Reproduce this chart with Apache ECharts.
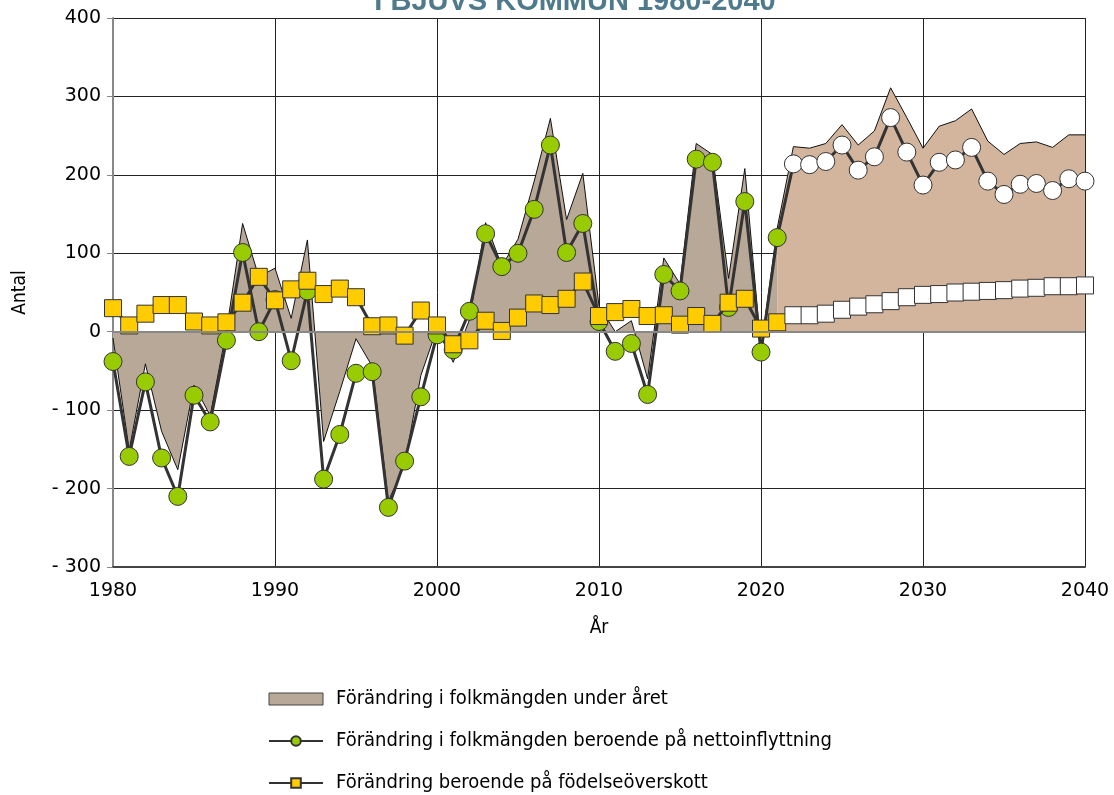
<!DOCTYPE html>
<html>
<head>
<meta charset="utf-8">
<script src="https://cdn.jsdelivr.net/npm/echarts@6/dist/echarts.min.js"></script>
<style>
  html, body { margin: 0; padding: 0; background: #fff; }
  #container { width: 1114px; height: 795px; }
</style>
</head>
<body>
<div id="container"></div>
<script>
// data
var startYear = 1980;
var lastHistYear = 2021;
// förändring under året (historik 1980-2021)
var totalHist = [-8, -151, -41, -127, -176, -68, -107, 1, 138, 70,
    81, 17, 117, -140, -76, -9, -44, -216, -170, -56,
    4, -39, 15, 139, 84, 118, 192, 272, 143, 202,
    33, 0, 14, -60, 94, 61, 240, 226, 68, 208,
    -22, 132];
// förändring under året (prognos 2021-2040)
var totalProg = [132, 236, 234, 240, 264, 238, 256, 311, 273, 234,
    262, 269, 284, 243, 226, 240, 242, 235, 251, 251];
// nettoinflyttning 1980-2040
var netValues = [-38, -159, -64, -161, -210, -81, -115, -11, 101, 0,
    41, -37, 52, -188, -131, -53, -51, -224, -165, -83,
    -4, -23, 26, 125, 83, 100, 156, 238, 101, 138,
    13, -25, -15, -80, 73, 52, 220, 216, 31, 166,
    -26, 120,
    214, 213, 217, 238, 206, 223, 273, 229, 187, 216,
    219, 235, 192, 175, 188, 189, 180, 195, 192];
// födelseöverskott 1980-2040
var birthValues = [30, 8, 23, 34, 34, 13, 8, 12, 37, 70,
    40, 54, 65, 48, 55, 44, 7, 8, -5, 27,
    8, -16, -11, 14, 1, 18, 36, 34, 42, 64,
    20, 25, 29, 20, 21, 9, 20, 10, 37, 42,
    4, 12,
    21, 21, 23, 28, 32, 35, 39, 44, 47, 48,
    50, 51, 52, 53, 55, 56, 58, 58, 59];
var yTicks = [-300, -200, -100, 0, 100, 200, 300, 400];

var nameTotal = 'Förändring i folkmängden under året';
var nameNet = 'Förändring i folkmängden beroende på nettoinflyttning';
var nameBirth = 'Förändring beroende på födelseöverskott';

var histColor = '#B8A898';
var progColor = '#D3B59D';
var lineColor = '#333333';
var narrowFont = "'Liberation Sans Narrow', 'DejaVu Sans Condensed', 'Liberation Sans', sans-serif";

function pairs(arr, firstYear) {
    var out = [];
    for (var i = 0; i < arr.length; i++) out.push([firstYear + i, arr[i]]);
    return out;
}
// historiska punkter i färg, prognos vit
function points(arr) {
    var out = [];
    for (var i = 0; i < arr.length; i++) {
        var y = startYear + i;
        var d = { value: [y, arr[i]] };
        if (y > lastHistYear) d.itemStyle = { color: '#ffffff' };
        out.push(d);
    }
    return out;
}

var dom = document.getElementById('container');
var myChart = echarts.init(dom, null, { renderer: 'canvas' });
var option = {
    backgroundColor: '#ffffff',
    animation: false,
    title: {
        text: 'I BJUVS KOMMUN 1980-2040',
        left: 570,
        textAlign: 'center',
        top: -18,
        textStyle: { color: '#4E7A8B', fontSize: 29, fontWeight: 'bold', fontFamily: 'Liberation Sans' }
    },
    grid: { left: 113, right: 29, top: 18, bottom: 228, outerBoundsMode: 'none' },
    legend: {
        orient: 'vertical',
        left: 268,
        top: 689,
        height: 140,
        padding: 0,
        itemWidth: 54,
        itemHeight: 12,
        itemGap: 22,
        textStyle: { fontFamily: narrowFont, fontSize: 20, color: '#000', padding: [0, 0, 0, 8] },
        data: [
            { name: nameTotal, icon: 'rect', itemStyle: { color: histColor, borderColor: '#444', borderWidth: 1 } },
            { name: nameNet },
            { name: nameBirth }
        ]
    },
    xAxis: {
        type: 'value',
        min: 1980,
        max: 2040,
        interval: 10,
        name: 'År',
        nameLocation: 'middle',
        nameGap: 52,
        nameTextStyle: { fontFamily: narrowFont, fontSize: 19, color: '#000' },
        axisLine: { onZero: false, lineStyle: { color: '#444', width: 2 } },
        axisTick: { show: false },
        axisLabel: {
            margin: 15, fontFamily: 'DejaVu Sans', fontSize: 19, color: '#000',
            formatter: function (v) { return String(v); }
        },
        splitLine: { show: true, lineStyle: { color: '#222', width: 1 } }
    },
    yAxis: {
        type: 'value',
        min: yTicks[0],
        max: yTicks[yTicks.length - 1],
        interval: 100,
        name: 'Antal',
        nameLocation: 'middle',
        nameGap: 83,
        nameRotate: 90,
        nameTextStyle: { fontFamily: narrowFont, fontSize: 19, color: '#000' },
        axisLine: { show: true, lineStyle: { color: '#888', width: 2 } },
        axisTick: { show: true, length: 6, lineStyle: { color: '#888' } },
        axisLabel: {
            margin: 12,
            fontFamily: 'DejaVu Sans',
            fontSize: 19,
            color: '#000',
            formatter: function (v) { return v < 0 ? '- ' + Math.abs(v) : String(v); }
        },
        splitLine: { show: true, lineStyle: { color: '#222', width: 1 } }
    },
    series: [
        {
            name: nameTotal,
            type: 'line',
            data: pairs(totalHist, startYear),
            symbol: 'none',
            lineStyle: { color: '#111', width: 1 },
            itemStyle: { color: histColor },
            areaStyle: { color: histColor, opacity: 1 },
            z: 1,
            markLine: {
                silent: true,
                symbol: 'none',
                label: { show: false },
                lineStyle: { color: '#888', width: 2, type: 'solid' },
                data: [{ yAxis: 0 }]
            }
        },
        {
            name: 'prognos',
            type: 'line',
            data: pairs(totalProg, lastHistYear),
            symbol: 'none',
            lineStyle: { color: '#111', width: 1 },
            itemStyle: { color: progColor },
            areaStyle: { color: progColor, opacity: 1 },
            z: 1
        },
        {
            name: nameNet,
            type: 'line',
            data: points(netValues),
            symbol: 'circle',
            symbolSize: 18,
            lineStyle: { color: lineColor, width: 3 },
            itemStyle: { color: '#99CC00', borderColor: '#333', borderWidth: 1 },
            z: 3
        },
        {
            name: nameBirth,
            type: 'line',
            data: points(birthValues),
            symbol: 'rect',
            symbolSize: 17,
            lineStyle: { color: lineColor, width: 3 },
            itemStyle: { color: '#FFCC00', borderColor: '#333', borderWidth: 1 },
            z: 4
        }
    ]
};
myChart.setOption(option, true);
</script>
</body>
</html>
